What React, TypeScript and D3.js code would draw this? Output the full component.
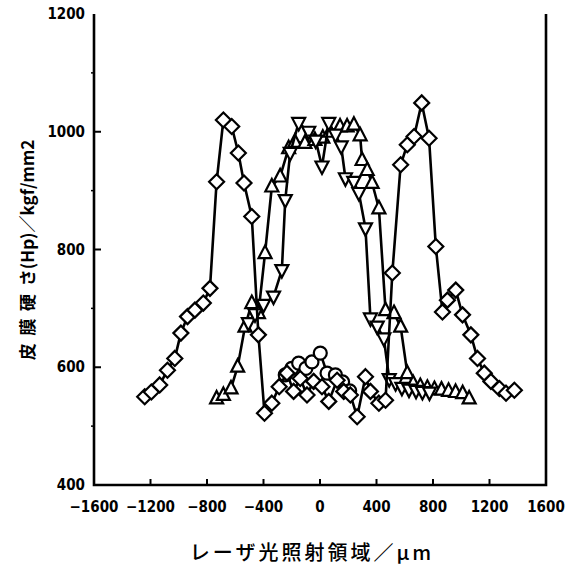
import React from "react";
import * as d3 from "d3";

// Laser irradiation position (µm) vs. film hardness Hp (kgf/mm2)
const diamondX = [-1241,-1194,-1135,-1080,-1028,-985,-938,-886,-826,-779,-732,-684,-625,-578,-538,-483,-436,-393,-341,-289,-234,-187,-140,-92,-45,14,62,121,168,215,263,322,357,417,464,512,571,618,666,720,772,820,867,902,961,1009,1068,1115,1163,1210,1270,1317,1376];
const diamondY = [550,558,570,595,615,658,686,697,709,734,915,1020,1009,964,913,856,655,522,539,567,590,559,581,553,576,567,542,578,559,553,516,584,559,539,544,760,944,978,992,1049,989,805,694,714,731,689,655,615,590,576,564,556,561];

const circleX = [-246,-200,-151,-100,-57,2,50,109,160,210];
const circleY = [587,598,607,598,609,624,590,587,575,560];

const upX = [-732,-684,-630,-583,-531,-483,-436,-389,-341,-282,-222,-178,-107,-36,20,70,142,192,240,284,298,334,369,417,464,524,571,618,660,710,760,810,860,910,960,1010,1056];
const upY = [547,553,564,601,669,709,692,794,907,924,972,983,981,986,990,1000,1009,1009,1012,994,952,935,913,870,697,692,669,590,573,568,565,563,562,560,558,556,547];

const downX = [-507,-460,-400,-329,-270,-246,-211,-151,-80,-30,14,62,110,150,180,239,275,322,357,405,452,490,535,580,630,680,725,775];
const downY = [675,690,706,720,765,884,964,1015,1000,985,941,1015,995,975,921,915,896,836,683,669,649,580,573,565,562,560,558,557];

const xTicks = [-1600,-1200,-800,-400,0,400,800,1200,1600];
const yTicks = [400,600,800,1000,1200];
const yMinor = [500,700,900,1100];

const W = 574, H = 567;
const left = 94, right = 546, top = 14, bottom = 485;

export default function App() {
  const x = d3.scaleLinear().domain([-1600, 1600]).range([left, right]);
  const y = d3.scaleLinear().domain([400, 1200]).range([bottom, top]);
  const line = d3.line<[number, number]>().x(d => x(d[0])).y(d => y(d[1]));
  const pts = (xs: number[], ys: number[]) => xs.map((v, i) => [v, ys[i]] as [number, number]);

  const num = { fontFamily: "'Liberation Sans Narrow', 'DejaVu Sans Condensed', sans-serif", fontWeight: 700, fontSize: 15 } as const;
  const stroke = "#000";
  const diamond = (cx: number, cy: number, k: number) =>
    <path key={k} d={`M${cx},${cy - 7.5}L${cx + 7.5},${cy}L${cx},${cy + 7.5}L${cx - 7.5},${cy}Z`} fill="#fff" stroke={stroke} strokeWidth={2.2} />;
  const triUp = (cx: number, cy: number, k: number) =>
    <path key={k} d={`M${cx},${cy - 7.5}L${cx + 6.5},${cy + 5}L${cx - 6.5},${cy + 5}Z`} fill="#fff" stroke={stroke} strokeWidth={2.2} />;
  const triDown = (cx: number, cy: number, k: number) =>
    <path key={k} d={`M${cx},${cy + 7.5}L${cx + 6.5},${cy - 5}L${cx - 6.5},${cy - 5}Z`} fill="#fff" stroke={stroke} strokeWidth={2.2} />;

  const series = [
    { xs: upX, ys: upY, m: triUp },
    { xs: downX, ys: downY, m: triDown },
    { xs: circleX, ys: circleY, m: null },
    { xs: diamondX, ys: diamondY, m: diamond },
  ];

  return (
    <svg width={W} height={H} style={{ position: "absolute", left: 0, top: 0, background: "#fff" }}>
      <rect width={W} height={H} fill="#fff" />
      {/* frame */}
      <path d={`M${left},${top}V${bottom}H${right}V${top}`} fill="none" stroke={stroke} strokeWidth={2.6} />
      {/* x ticks */}
      {xTicks.map(t => (
        <g key={t}>
          {t > -1600 && t < 1600 && <line x1={x(t)} x2={x(t)} y1={bottom} y2={bottom - 6} stroke={stroke} strokeWidth={2} />}
          <text x={x(t)} y={512} textAnchor="middle" {...num}>{t < 0 ? `−${-t}` : t}</text>
        </g>
      ))}
      {/* y ticks */}
      {yTicks.map(t => (
        <g key={t}>
          {t > 400 && t < 1200 && <line x1={left} x2={left + 7} y1={y(t)} y2={y(t)} stroke={stroke} strokeWidth={2} />}
          <text x={85} y={y(t) + 5} textAnchor="end" {...num}>{t}</text>
        </g>
      ))}
      {yMinor.map(t => <line key={t} x1={left - 3} x2={left} y1={y(t)} y2={y(t)} stroke={stroke} strokeWidth={1.5} />)}
      {/* data */}
      {series.map((s, i) => (
        <g key={i}>
          <path d={line(pts(s.xs, s.ys)) || ""} fill="none" stroke={stroke} strokeWidth={2.6} strokeLinejoin="round" />
          {s.xs.map((v, j) => s.m ? s.m(x(v), y(s.ys[j]), j) :
            <circle key={j} cx={x(v)} cy={y(s.ys[j])} r={6.5} fill="#fff" stroke={stroke} strokeWidth={2.2} />)}
        </g>
      ))}
      {/* axis titles */}
      <text x={312} y={560} textAnchor="middle" fontFamily="'Noto Sans CJK JP', sans-serif" fontWeight={500} fontSize={20} letterSpacing={3}>
        レーザ光照射領域／μm
      </text>
      <text transform={`translate(34,250) rotate(-90)`} textAnchor="middle" fontFamily="'Noto Sans CJK JP', sans-serif" fontWeight={700} fontSize={17} style={{ whiteSpace: "pre" }}>
        皮  膜  硬  さ(Hp)／kgf/mm2
      </text>
    </svg>
  );
}
